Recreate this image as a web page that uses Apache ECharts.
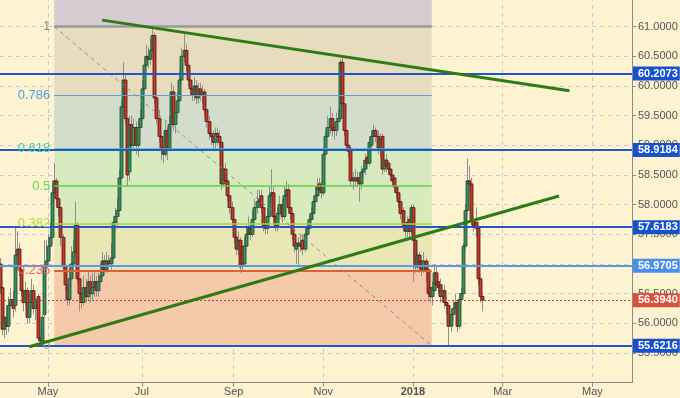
<!DOCTYPE html>
<html>
<head>
<meta charset="utf-8">
<script src="https://cdn.jsdelivr.net/npm/echarts@6.0.0/dist/echarts.min.js"></script>
<style>
html,body{margin:0;padding:0;background:#fdf3d0;}
#chart{width:680px;height:398px;}
</style>
</head>
<body>
<div id="chart"></div>
<script>
// ---------- DATA ----------
const firstDay = '2017-03-29';
const dayCount = 304;

const opens = [
57.00,56.60,55.90,56.10,55.95,56.30,56.40,56.30,57.15,57.25,56.90,56.55,56.35,56.55,56.10,56.35,56.55,56.25,56.45,55.75,
55.70,56.15,56.95,57.05,57.30,57.45,58.20,58.40,58.10,57.95,57.45,56.95,56.65,56.40,56.75,57.00,57.20,57.65,56.75,56.50,
56.35,56.60,56.45,56.70,56.50,56.60,56.70,56.55,56.70,56.80,57.05,56.90,57.05,57.00,57.10,57.70,57.80,57.90,58.45,59.65,
60.10,59.45,58.55,59.35,59.00,59.30,59.00,59.30,59.45,59.95,60.35,60.50,60.45,60.60,60.85,59.80,59.45,59.15,58.95,58.85,
59.25,58.95,59.35,59.90,59.35,59.55,59.75,60.10,60.50,60.60,60.35,60.10,59.95,59.85,60.00,59.80,59.95,59.85,59.90,59.60,
59.40,59.20,59.15,59.05,59.20,59.15,59.05,58.35,58.60,58.40,58.15,57.95,57.75,57.45,57.25,57.40,57.30,57.00,57.30,57.50,
57.60,57.50,57.75,57.95,58.05,58.15,57.95,57.65,57.60,57.80,58.15,58.20,57.80,57.65,57.85,58.00,57.80,58.15,58.25,57.95,
57.85,57.50,57.25,57.35,57.30,57.40,57.25,57.50,57.60,57.75,57.85,58.05,58.15,58.35,58.30,58.20,58.85,59.15,59.30,59.45,
59.30,59.25,59.40,59.45,60.40,59.70,59.25,59.00,58.95,58.45,58.40,58.45,58.45,58.35,58.55,58.60,58.80,58.70,59.00,59.15,
59.25,59.15,58.95,59.15,58.60,58.75,58.70,58.60,58.50,58.45,58.30,58.20,58.05,57.90,57.65,57.55,57.75,57.55,57.95,57.40,
56.95,57.15,57.05,56.90,57.05,56.90,56.60,56.45,56.55,56.85,56.70,56.65,56.45,56.55,56.35,56.30,55.95,56.15,56.25,56.35,
55.95,56.40,56.50,57.30,57.90,58.40,58.35,57.75,57.70,57.60,56.75,56.45
];
const closes = [
56.60,55.90,56.10,55.95,56.30,56.40,56.25,57.15,57.25,56.90,56.55,56.35,56.55,56.10,56.35,56.55,56.25,56.40,55.75,55.70,
56.10,56.95,57.05,57.30,57.45,58.20,58.40,58.10,57.95,57.45,56.95,56.65,56.40,56.75,57.00,57.20,57.65,56.75,56.50,56.35,
56.60,56.45,56.70,56.50,56.60,56.70,56.55,56.70,56.80,57.05,56.90,57.05,57.00,57.10,57.70,57.80,57.90,58.45,59.65,60.10,
59.45,58.50,59.35,59.00,59.30,59.00,59.30,59.45,59.95,60.35,60.50,60.45,60.60,60.85,59.80,59.45,59.15,58.95,58.85,59.25,
58.95,59.35,59.90,59.35,59.55,59.75,60.10,60.50,60.60,60.35,60.10,59.95,59.85,60.00,59.80,59.95,59.85,59.90,59.60,59.40,
59.20,59.15,59.05,59.20,59.15,59.05,58.35,58.60,58.40,58.15,57.95,57.75,57.45,57.25,57.40,56.95,57.00,57.30,57.50,57.60,
57.50,57.75,57.95,58.05,58.10,57.95,57.65,57.60,57.80,58.15,58.20,57.80,57.65,57.85,58.00,57.80,58.15,58.25,57.95,57.85,
57.50,57.30,57.35,57.30,57.35,57.25,57.50,57.60,57.75,57.85,58.05,58.15,58.30,58.25,58.20,58.85,59.15,59.30,59.45,59.25,
59.25,59.40,59.45,60.40,59.70,59.25,59.00,58.90,58.40,58.40,58.45,58.40,58.35,58.55,58.60,58.75,58.70,59.05,59.15,59.25,
59.15,58.95,59.10,58.60,58.75,58.65,58.60,58.50,58.40,58.30,58.20,58.05,57.85,57.65,57.55,57.70,57.55,57.95,57.40,56.95,
57.15,56.95,56.90,57.05,56.90,56.50,56.45,56.60,56.85,56.65,56.60,56.45,56.55,56.35,56.30,55.95,56.15,56.25,56.35,55.95,
56.40,56.50,57.30,57.90,58.40,58.35,57.75,57.65,57.60,56.75,56.45,56.39
];
const lows = [
56.50,55.80,55.75,55.80,55.85,56.10,56.10,56.20,56.95,56.80,56.45,56.20,56.30,56.00,56.00,56.20,56.15,56.05,55.70,55.62,
55.62,56.10,56.80,56.95,57.10,57.35,58.00,57.95,57.80,57.30,56.85,56.55,56.30,56.30,56.60,56.90,57.10,56.70,56.20,56.25,
56.30,56.35,56.40,56.35,56.40,56.45,56.45,56.45,56.55,56.70,56.80,56.85,56.90,56.90,57.05,57.55,57.60,57.80,58.35,59.50,
59.35,58.30,58.40,58.85,58.90,58.85,58.80,59.15,59.35,59.85,60.20,60.30,60.35,60.50,59.70,59.35,59.05,58.75,58.70,58.80,
58.75,58.90,59.25,59.25,59.20,59.45,59.65,60.00,60.40,60.25,60.00,59.85,59.75,59.75,59.70,59.70,59.75,59.70,59.50,59.30,
59.10,59.00,58.90,58.95,59.00,58.95,58.25,58.30,58.30,58.05,57.85,57.65,57.35,57.15,57.15,56.85,56.90,56.95,57.20,57.40,
57.40,57.45,57.65,57.85,57.95,57.85,57.55,57.50,57.50,57.75,58.05,57.70,57.55,57.55,57.75,57.70,57.75,58.05,57.85,57.75,
57.40,57.20,57.00,56.95,57.20,57.15,57.20,57.40,57.50,57.65,57.75,57.95,58.05,58.15,58.10,58.15,58.75,59.05,59.20,59.15,
59.10,59.15,59.30,59.40,59.60,59.15,58.90,58.80,58.30,58.25,58.30,58.30,58.05,58.25,58.45,58.50,58.60,58.65,58.90,59.05,
59.05,58.85,58.80,58.50,58.55,58.55,58.50,58.40,58.30,58.20,58.10,57.95,57.75,57.55,57.40,57.45,57.45,57.50,56.70,56.85,
56.90,56.85,56.80,56.85,56.70,56.40,56.35,56.30,56.50,56.55,56.50,56.35,56.35,56.25,56.15,55.62,55.85,56.05,56.15,55.85,
55.90,56.30,56.45,57.20,57.80,58.20,57.65,57.55,57.45,56.65,56.35,56.20
];
const highs = [
57.10,56.70,56.30,56.30,56.45,56.60,56.55,57.60,57.55,57.35,57.00,56.60,56.70,56.60,56.50,56.75,56.65,56.55,56.50,55.90,
56.15,57.40,57.40,57.50,57.70,58.40,58.70,58.45,58.30,58.05,57.50,57.10,56.80,57.00,57.30,57.40,58.05,57.70,56.85,56.60,
56.80,56.75,56.90,56.80,56.85,56.90,56.80,56.85,57.00,57.20,57.15,57.20,57.15,57.35,57.80,57.95,58.10,58.60,59.75,60.40,
60.20,59.55,59.50,59.50,59.45,59.40,59.45,59.60,60.10,60.50,60.70,60.65,60.80,61.00,60.90,59.95,59.60,59.25,59.10,59.40,
59.30,59.50,60.05,60.00,59.75,59.90,60.25,60.65,60.90,60.70,60.45,60.20,60.10,60.15,60.10,60.05,60.05,60.00,59.95,59.70,
59.50,59.30,59.25,59.30,59.30,59.25,59.10,58.75,58.70,58.50,58.25,58.05,57.85,57.55,57.55,57.45,57.40,57.45,57.65,57.80,
57.70,57.90,58.10,58.25,58.25,58.25,58.05,57.80,57.95,58.30,58.60,58.30,57.90,57.95,58.15,58.10,58.30,58.40,58.35,58.05,
57.95,57.60,57.45,57.45,57.50,57.50,57.60,57.70,57.85,57.95,58.15,58.30,58.45,58.45,58.40,58.95,59.25,59.50,59.65,59.55,
59.45,59.55,59.60,60.45,60.47,59.80,59.35,59.10,59.00,58.55,58.60,58.55,58.55,58.65,58.75,58.85,58.90,59.15,59.25,59.35,
59.30,59.25,59.20,59.20,58.90,58.85,58.75,58.65,58.60,58.50,58.35,58.25,58.10,57.95,57.70,57.80,57.80,58.00,58.00,57.45,
57.25,57.20,57.15,57.20,57.10,56.95,56.70,56.70,57.00,56.95,56.80,56.75,56.65,56.65,56.45,56.35,56.25,56.40,56.50,56.40,
56.50,56.60,57.35,58.00,58.78,58.65,58.45,57.85,57.95,57.70,56.85,56.50
];

const tickDates  = ['2017-05-01','2017-07-03','2017-09-01','2017-11-01','2018-01-01','2018-03-01','2018-05-01'];
const tickLabels = ['May','Jul','Sep','Nov','2018','Mar','May'];

const priceMin = 55.0, priceMax = 61.5, priceStep = 0.5;

const levelPrices = [60.2073, 58.9184, 57.6183, 56.9705, 55.6216];
const lastPrice = 56.3940;

const fibHigh = 61.00, fibLow = 55.62;
const fibStart = '2017-05-04', fibEnd = '2018-01-12';
const fibRatios = [0, 0.236, 0.382, 0.5, 0.618, 0.786, 1];
const fibLabels = ['0', '0.236', '0.382', '0.5', '0.618', '0.786', '1'];

const trendUpper = [['2017-06-06', 61.11], ['2018-04-16', 59.92]];
const trendLower = [['2017-04-18', 55.605], ['2018-04-09', 58.146]];

// ---------- STYLE ----------
const FONT = 'Arial, "Liberation Sans", sans-serif';
const fibLineColors  = ['#9a9a9a', '#e0603c', '#b0d236', '#62cc4a', '#3ec8b0', '#5aa2dc', '#9a9a9a'];
const fibTextColors  = ['#9a9a9a', '#f06464', '#b6d93a', '#5cd65c', '#3ecfb0', '#4aa3df', '#8a8a8a'];
const fibLineWidths  = [1, 2, 1.5, 1.5, 1.5, 1, 2.5];
const fibZoneColors  = ['#f5caab', '#e9e7b6', '#d8ebbc', '#d6eabd', '#d4ddcc', '#e8dcbf'];
const fibTopZoneColor = '#d6cbd1';
const levelLineColors = ['#2157c9', '#2157c9', '#2157c9', '#5c9ae6', '#2157c9'];
const levelTagColors  = ['#1752cc', '#1752cc', '#1752cc', '#4a8fe8', '#1752cc'];

// ---------- BUILD ----------
const categories = [];
(function () {
  const d = new Date(firstDay + 'T00:00:00Z');
  while (categories.length < dayCount) {
    const wd = d.getUTCDay();
    if (wd !== 0 && wd !== 6) categories.push(d.toISOString().slice(0, 10));
    d.setUTCDate(d.getUTCDate() + 1);
  }
})();
const tickSet = new Set(tickDates);
const showTick = (idx, val) => tickSet.has(val);

const candleData = opens.map((o, i) => [i, o, closes[i], lows[i], highs[i]]);

const fibPrice = r => fibLow + r * (fibHigh - fibLow);

const fibAreas = [];
for (let k = 0; k < fibRatios.length - 1; k++) {
  fibAreas.push([
    { xAxis: fibStart, yAxis: fibPrice(fibRatios[k]), itemStyle: { color: fibZoneColors[k] } },
    { xAxis: fibEnd, yAxis: fibPrice(fibRatios[k + 1]) }
  ]);
}
fibAreas.push([
  { xAxis: fibStart, yAxis: fibHigh, itemStyle: { color: fibTopZoneColor } },
  { xAxis: fibEnd, yAxis: priceMax }
]);

const fibLines = fibRatios.map((r, k) => {
  const st = {
    lineStyle: { color: fibLineColors[k], width: fibLineWidths[k], type: 'solid' },
    label: { show: true, position: 'start', distance: 4, formatter: fibLabels[k],
             color: fibTextColors[k], fontSize: 13, fontFamily: FONT }
  };
  return [Object.assign({ coord: [fibStart, fibPrice(r)] }, st), Object.assign({ coord: [fibEnd, fibPrice(r)] }, st)];
});
fibLines.push([
  { coord: [fibStart, fibHigh], lineStyle: { color: '#8e8e8e', width: 1, type: [4, 4] }, label: { show: false } },
  { coord: [fibEnd, fibLow], lineStyle: { color: '#8e8e8e', width: 1, type: [4, 4] }, label: { show: false } }
]);

const tagLabel = (text, bg) => ({
  show: true, position: 'end', distance: 1, formatter: text,
  backgroundColor: bg, color: '#fff', fontWeight: 'bold',
  fontSize: 11, lineHeight: 13, fontFamily: FONT, padding: [1, 2, 0, 5]
});

const levelLines = levelPrices.map((p, k) => ({
  yAxis: p,
  lineStyle: { color: levelLineColors[k], width: 2, type: 'solid' },
  label: tagLabel(p.toFixed(4), levelTagColors[k])
}));
levelLines.push({
  yAxis: lastPrice,
  lineStyle: { color: '#cf3b2a', width: 1, type: [2, 2] },
  label: tagLabel(lastPrice.toFixed(4), '#d9503e')
});

function renderCandle(params, api) {
  const i = api.value(0), o = api.value(1), c = api.value(2), l = api.value(3), h = api.value(4);
  const pO = api.coord([i, o]), pC = api.coord([i, c]);
  const pL = api.coord([i, l]), pH = api.coord([i, h]);
  const x = Math.round(pO[0]) + 0.5;
  const up = c >= o;
  const top = Math.min(pO[1], pC[1]), bot = Math.max(pO[1], pC[1]);
  return {
    type: 'group',
    children: [
      { type: 'line', shape: { x1: x, y1: pH[1], x2: x, y2: pL[1] },
        style: { stroke: '#8f8f8f', lineWidth: 1 } },
      { type: 'rect', shape: { x: x - 1.5, y: top, width: 3, height: Math.max(bot - top, 1) },
        style: { fill: up ? '#3b8d5d' : '#c33b2b', stroke: up ? '#1c4a2c' : '#4e150d', lineWidth: 0.8 } }
    ]
  };
}

const chart = echarts.init(document.getElementById('chart'), null, { renderer: 'canvas' });
chart.setOption({
  animation: false,
  backgroundColor: '#fdf3d0',
  grid: { left: 0, right: 48, top: -3, bottom: 15.4, containLabel: false, outerBoundsMode: 'none' },
  xAxis: {
    type: 'category',
    data: categories,
    boundaryGap: false,
    axisLine: { show: true, lineStyle: { color: '#8a8a8a', width: 1 } },
    axisTick: { show: true, interval: showTick, length: 4, lineStyle: { color: '#8a8a8a' } },
    axisLabel: {
      interval: showTick, margin: 4, color: '#555', fontSize: 11, fontFamily: FONT,
      formatter: v => {
        const k = tickDates.indexOf(v);
        if (k < 0) return '';
        return /^\d{4}$/.test(tickLabels[k]) ? '{b|' + tickLabels[k] + '}' : tickLabels[k];
      },
      rich: { b: { fontWeight: 'bold', color: '#555', fontSize: 11, fontFamily: FONT } }
    },
    splitLine: { show: true, interval: showTick, lineStyle: { color: '#c5c8da', type: [4, 4], width: 1 } }
  },
  yAxis: {
    type: 'value',
    position: 'right',
    min: priceMin, max: priceMax, interval: priceStep,
    axisLine: { show: true, lineStyle: { color: '#8a8a8a', width: 1 } },
    axisTick: { show: true, length: 4, lineStyle: { color: '#8a8a8a' } },
    axisLabel: { show: true, margin: 6, color: '#555', fontSize: 11, fontFamily: FONT,
                 showMinLabel: false, formatter: v => v.toFixed(4) },
    splitLine: { show: true, lineStyle: { color: '#c5c8da', type: [4, 4], width: 1 } }
  },
  series: [
    {
      name: 'fib', type: 'line', data: [], z: 1, silent: true,
      markArea: { silent: true, data: fibAreas, label: { show: false } },
      markLine: { silent: true, symbol: 'none', data: fibLines, emphasis: { disabled: true } }
    },
    {
      name: 'levels', type: 'line', data: [], z: 2, silent: true,
      markLine: { silent: true, symbol: 'none', data: levelLines, emphasis: { disabled: true } }
    },
    {
      name: 'candles', type: 'custom', z: 3,
      renderItem: renderCandle,
      encode: { x: 0, y: [1, 2, 3, 4] },
      data: candleData
    },
    {
      name: 'trendUpper', type: 'line', z: 5, symbol: 'none', silent: true,
      lineStyle: { color: '#2e7a14', width: 3 },
      data: trendUpper
    },
    {
      name: 'trendLower', type: 'line', z: 5, symbol: 'none', silent: true,
      lineStyle: { color: '#2e7a14', width: 3 },
      data: trendLower
    }
  ]
});
</script>
</body>
</html>
